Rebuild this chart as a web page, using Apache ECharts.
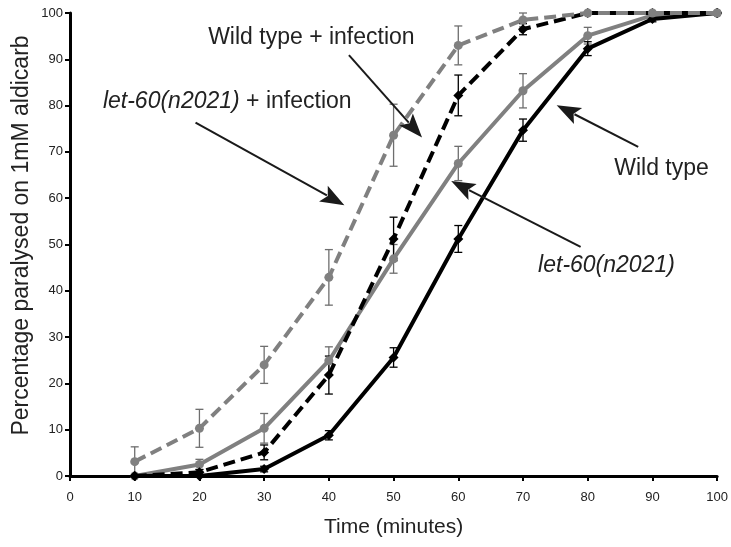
<!DOCTYPE html>
<html>
<head>
<meta charset="utf-8">
<script src="https://cdn.jsdelivr.net/npm/echarts@6/dist/echarts.min.js"></script>
<style>html,body{margin:0;padding:0;background:#fff}#c{width:731px;height:547px}</style>
</head>
<body>
<div id="c"></div>
<script>
// ---- data ----
var times = [10, 20, 30, 40, 50, 60, 70, 80, 90, 100];
var xTicks = [0, 10, 20, 30, 40, 50, 60, 70, 80, 90, 100];
var yTicks = [0, 10, 20, 30, 40, 50, 60, 70, 80, 90, 100];

var wildType      = [0, 0, 1.5, 8.8, 25.6, 51.2, 74.7, 92.3, 98.7, 100];
var wildTypeErr   = [0, 0, 0.6, 1.0, 2.1, 2.9, 2.4, 1.5, 0.6, 0];
var wildInf       = [0, 0.8, 5.1, 21.8, 51.2, 82.2, 96.5, 100, 100, 100];
var wildInfErr    = [0, 0.6, 1.6, 4.1, 4.7, 4.4, 1.2, 0, 0, 0];
var let60         = [0, 2.5, 10.3, 24.9, 46.9, 67.5, 83.2, 95.1, 99.5, 100];
var let60Err      = [0, 1.1, 3.2, 3.0, 3.1, 3.7, 3.7, 1.8, 0.4, 0];
var let60Inf      = [3.1, 10.3, 24.0, 42.9, 73.6, 93.0, 98.5, 100, 100, 100];
var let60InfErr   = [3.2, 4.1, 4.0, 6.0, 6.7, 4.2, 1.5, 0, 0, 0];

var GRAY = '#808080';
var BLACK = '#000000';

function pairs(v){ return times.map(function(t,i){ return [t, v[i]]; }); }
function errData(v, e){ return times.map(function(t,i){ return [t, v[i]-e[i], v[i]+e[i]]; }); }

function errSeries(v, e, color){
  return {
    type: 'custom',
    data: errData(v, e),
    z: 1,
    silent: true,
    renderItem: function(params, api){
      var x = api.value(0), lo = api.value(1), hi = api.value(2);
      if (hi - lo < 0.05) return null;
      var p1 = api.coord([x, lo]), p2 = api.coord([x, hi]);
      var w = 4;
      var st = {stroke: color, lineWidth: 1.3};
      return {type: 'group', children: [
        {type:'line', shape:{x1:p1[0],y1:p1[1],x2:p2[0],y2:p2[1]}, style: st},
        {type:'line', shape:{x1:p1[0]-w,y1:p1[1],x2:p1[0]+w,y2:p1[1]}, style: st},
        {type:'line', shape:{x1:p2[0]-w,y1:p2[1],x2:p2[0]+w,y2:p2[1]}, style: st}
      ]};
    }
  };
}
function lineSeries(name, v, color, dashed, symbol, z){
  return {
    name: name, type: 'line', data: pairs(v), z: z,
    symbol: symbol, symbolSize: symbol === 'diamond' ? 10 : 9,
    itemStyle: {color: color, borderWidth: 0},
    lineStyle: {color: color, width: 4, type: dashed ? [12, 6] : 'solid'},
    animation: false
  };
}

// annotations: text centre, arrow start, arrow tip (data coordinates)
var annotations = [
  {rich: 'Wild type + infection', c: [37.3, 94.6], a: [43.1, 90.9], b: [54.4, 73.1]},
  {rich: '{i|let-60(n2021)} + infection', c: [24.3, 80.8], a: [19.4, 76.3], b: [42.4, 58.5]},
  {rich: 'Wild type', c: [91.4, 66.3], a: [87.8, 71.1], b: [75.2, 80.1]},
  {rich: '{i|let-60(n2021)}', c: [82.9, 45.4], a: [78.9, 49.5], b: [58.9, 63.7]}
];

var chart = echarts.init(document.getElementById('c'), null, {renderer: 'canvas'});
var tickFont = '"Liberation Sans", Arial, sans-serif';
var option = {
  animation: false,
  backgroundColor: '#fff',
  grid: {left: 70, right: 12, top: 13, bottom: 71, containLabel: false},
  xAxis: {
    type: 'value', min: 0, max: 100, interval: 10,
    name: 'Time (minutes)', nameLocation: 'middle', nameGap: 41,
    nameTextStyle: {fontFamily: 'Liberation Sans, Arial, sans-serif', fontSize: 21, color: '#222'},
    axisLine: {show: true, onZero: false, lineStyle: {color: '#000', width: 3}},
    axisTick: {show: true, inside: false, length: 5, lineStyle: {color: '#000', width: 2}},
    axisLabel: {margin: 15, fontFamily: tickFont, fontSize: 13, color: '#222',
      formatter: function(v){ return xTicks.indexOf(v) >= 0 ? String(v) : ''; }},
    splitLine: {show: false}
  },
  yAxis: {
    type: 'value', min: 0, max: 100, interval: 10,
    name: 'Percentage paralysed on 1mM aldicarb', nameLocation: 'middle', nameGap: 37,
    nameMoveOverlap: false,
    nameTextStyle: {fontFamily: 'Liberation Sans, Arial, sans-serif', fontSize: 23, color: '#222',
      padding: [0, 0, 0, 18]},
    axisLine: {show: true, onZero: false, lineStyle: {color: '#000', width: 3}},
    axisTick: {show: true, inside: false, length: 5, lineStyle: {color: '#000', width: 2}},
    axisLabel: {margin: 7, fontFamily: tickFont, fontSize: 13, color: '#222',
      formatter: function(v){ return yTicks.indexOf(v) >= 0 ? String(v) : ''; }},
    splitLine: {show: false}
  },
  series: [
    errSeries(let60, let60Err, '#6e6e6e'),
    errSeries(let60Inf, let60InfErr, '#6e6e6e'),
    errSeries(wildType, wildTypeErr, '#000'),
    errSeries(wildInf, wildInfErr, '#000'),
    lineSeries('let-60(n2021)', let60, GRAY, false, 'circle', 3),
    lineSeries('Wild type', wildType, BLACK, false, 'diamond', 4),
    lineSeries('Wild type + infection', wildInf, BLACK, true, 'diamond', 5),
    lineSeries('let-60(n2021) + infection', let60Inf, GRAY, true, 'circle', 6)
  ]
};
chart.setOption(option);

function buildGraphics(){
  var els = [];
  annotations.forEach(function(an){
    var c = chart.convertToPixel({gridIndex: 0}, an.c);
    var a = chart.convertToPixel({gridIndex: 0}, an.a);
    var b = chart.convertToPixel({gridIndex: 0}, an.b);
    els.push({
      type: 'text', x: c[0], y: c[1], z: 20,
      style: {text: an.rich, fontFamily: 'Liberation Sans, Arial, sans-serif', fontSize: 23,
        fill: '#222', align: 'center', verticalAlign: 'middle',
        rich: {i: {fontStyle: 'italic', fontFamily: 'Liberation Sans, Arial, sans-serif', fontSize: 23, fill: '#222'}}}
    });
    var dx = b[0]-a[0], dy = b[1]-a[1], L = Math.sqrt(dx*dx+dy*dy);
    var ux = dx/L, uy = dy/L, hl = 24, hw = 9;
    var bx = b[0]-ux*hl, by = b[1]-uy*hl;
    els.push({type: 'line', z: 20, shape: {x1: a[0], y1: a[1], x2: bx+ux*4, y2: by+uy*4},
      style: {stroke: '#1a1a1a', lineWidth: 2}});
    els.push({type: 'polygon', z: 20, shape: {points: [
      [b[0], b[1]], [bx - uy*hw, by + ux*hw], [bx + ux*5, by + uy*5], [bx + uy*hw, by - ux*hw]
    ]}, style: {fill: '#1a1a1a'}});
  });
  chart.setOption({graphic: {elements: els}});
}
buildGraphics();
</script>
</body>
</html>
